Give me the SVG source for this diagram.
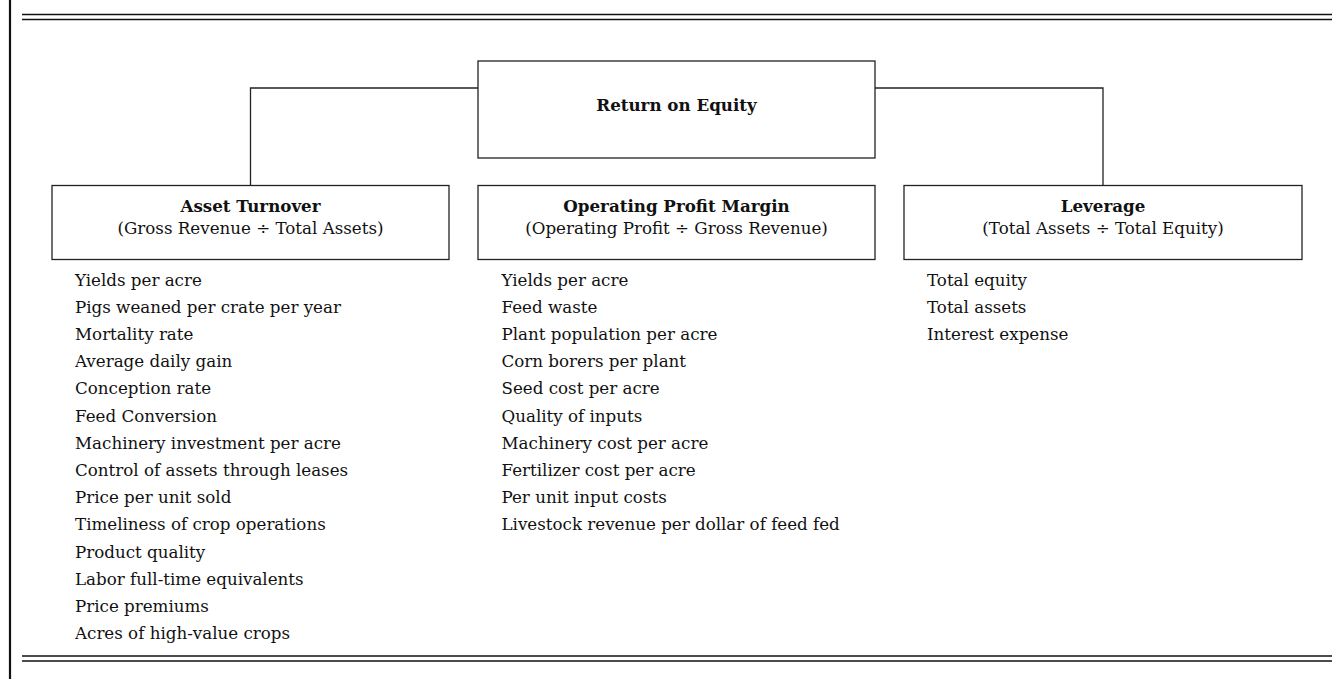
<svg xmlns="http://www.w3.org/2000/svg" width="1332" height="679" viewBox="0 0 1332 679">
<style>
text{font-family:"DejaVu Serif","Liberation Serif",serif;font-size:16.7px;fill:#111}
.b{font-weight:bold}
.c{text-anchor:middle}
.box{fill:#fff;stroke:#222;stroke-width:1.3}
.conn{fill:none;stroke:#222;stroke-width:1.3}
.rule{stroke:#111;stroke-width:1.6}
</style>
<rect width="1332" height="679" fill="#fff"/>
<g id="frame">
<line x1="10" y1="0" x2="10" y2="679" stroke="#111" stroke-width="2.2"/>
<line class="rule" x1="22" y1="14.5" x2="1332" y2="14.5" stroke-width="2"/>
<line class="rule" x1="22" y1="19.5" x2="1332" y2="19.5"/>
<line class="rule" x1="22" y1="656" x2="1332" y2="656"/>
<line class="rule" x1="22" y1="661" x2="1332" y2="661"/>
</g>
<g id="connectors">
<polyline class="conn" points="478,88 250.5,88 250.5,185.5"/>
<polyline class="conn" points="875,88 1103,88 1103,185.5"/>
</g>
<g id="roe">
<rect class="box" x="478" y="61" width="397" height="97"/>
<text class="b c" x="676.5" y="111">Return on Equity</text>
</g>
<g id="asset-turnover">
<rect class="box" x="52" y="185.5" width="397" height="74"/>
<text class="b c" x="250.5" y="211.5">Asset Turnover</text>
<text class="c" x="250.5" y="233.5">(Gross Revenue ÷ Total Assets)</text>
</g>
<g id="operating-profit-margin">
<rect class="box" x="478" y="185.5" width="397" height="74"/>
<text class="b c" x="676.5" y="211.5">Operating Profit Margin</text>
<text class="c" x="676.5" y="233.5">(Operating Profit ÷ Gross Revenue)</text>
</g>
<g id="leverage">
<rect class="box" x="904" y="185.5" width="398" height="74"/>
<text class="b c" x="1103" y="211.5">Leverage</text>
<text class="c" x="1103" y="233.5">(Total Assets ÷ Total Equity)</text>
</g>
<g id="asset-list">
<text x="75" y="285.5">Yields per acre</text>
<text x="75" y="312.7">Pigs weaned per crate per year</text>
<text x="75" y="339.9">Mortality rate</text>
<text x="75" y="367.1">Average daily gain</text>
<text x="75" y="394.3">Conception rate</text>
<text x="75" y="421.5">Feed Conversion</text>
<text x="75" y="448.7">Machinery investment per acre</text>
<text x="75" y="475.9">Control of assets through leases</text>
<text x="75" y="503.1">Price per unit sold</text>
<text x="75" y="530.3">Timeliness of crop operations</text>
<text x="75" y="557.5">Product quality</text>
<text x="75" y="584.7">Labor full-time equivalents</text>
<text x="75" y="611.9">Price premiums</text>
<text x="75" y="639.1">Acres of high-value crops</text>
</g>
<g id="margin-list">
<text x="501.5" y="285.5">Yields per acre</text>
<text x="501.5" y="312.7">Feed waste</text>
<text x="501.5" y="339.9">Plant population per acre</text>
<text x="501.5" y="367.1">Corn borers per plant</text>
<text x="501.5" y="394.3">Seed cost per acre</text>
<text x="501.5" y="421.5">Quality of inputs</text>
<text x="501.5" y="448.7">Machinery cost per acre</text>
<text x="501.5" y="475.9">Fertilizer cost per acre</text>
<text x="501.5" y="503.1">Per unit input costs</text>
<text x="501.5" y="530.3">Livestock revenue per dollar of feed fed</text>
</g>
<g id="leverage-list">
<text x="927" y="285.5">Total equity</text>
<text x="927" y="312.7">Total assets</text>
<text x="927" y="339.9">Interest expense</text>
</g>
</svg>
